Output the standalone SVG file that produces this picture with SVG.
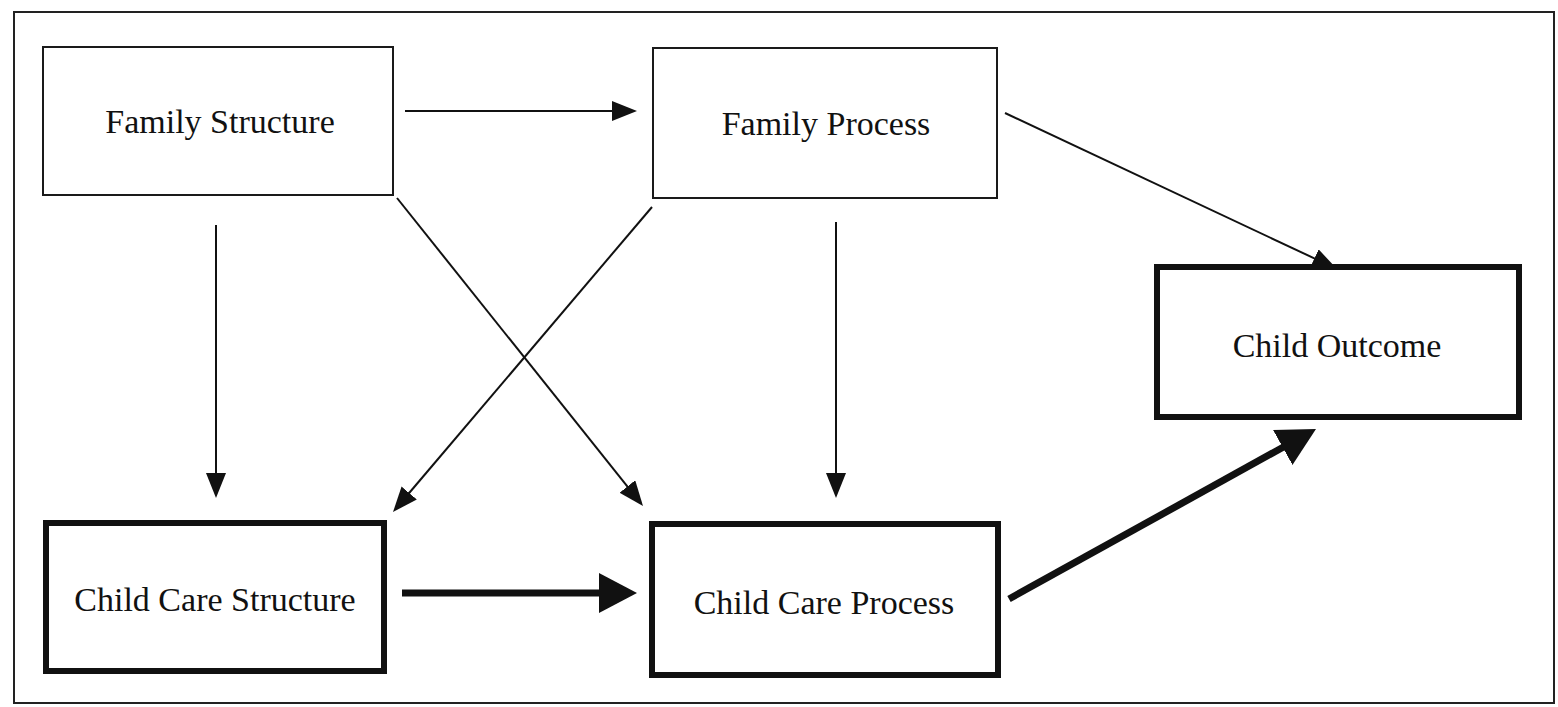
<svg xmlns="http://www.w3.org/2000/svg" width="1558" height="707" viewBox="0 0 1558 707">
<defs>
<style>
.thin{fill:#fff;stroke:#1a1a1a;stroke-width:2}
.thick{fill:#fff;stroke:#111;stroke-width:6}
.lbl{font-family:"Liberation Serif","Times New Roman",serif;font-size:34px;fill:#111;text-anchor:middle}
.c1{stroke:#111;stroke-width:2;fill:none}
.c2{stroke:#111;stroke-width:7;fill:none}
</style>
<marker id="ah" markerUnits="userSpaceOnUse" markerWidth="26" markerHeight="22" refX="4" refY="10" orient="auto">
<path d="M0,0 L25,10 L0,20 z" fill="#111"/>
</marker>
<marker id="ahb" markerUnits="userSpaceOnUse" markerWidth="40" markerHeight="42" refX="6" refY="20" orient="auto">
<path d="M0,0 L38,20 L0,40 z" fill="#111"/>
</marker>
</defs>
<rect width="1558" height="707" fill="#fff"/>
<rect x="14" y="12" width="1540" height="691" fill="none" stroke="#222" stroke-width="2"/>
<g id="connectors">
<line class="c1" x1="405" y1="111" x2="616" y2="111" marker-end="url(#ah)"/>
<line class="c1" x1="216" y1="225" x2="216" y2="477" marker-end="url(#ah)"/>
<line class="c1" x1="397" y1="198" x2="629.9" y2="489.6" marker-end="url(#ah)"/>
<line class="c1" x1="652" y1="207" x2="406.6" y2="496" marker-end="url(#ah)"/>
<line class="c1" x1="836" y1="222" x2="836" y2="477" marker-end="url(#ah)"/>
<line class="c1" x1="1005" y1="113" x2="1318" y2="260.1" marker-end="url(#ah)"/>
<line class="c2" x1="402" y1="593" x2="605" y2="593" marker-end="url(#ahb)"/>
<line class="c2" x1="1009" y1="599" x2="1288" y2="444.5" marker-end="url(#ahb)"/>
</g>
<g id="family-structure">
<rect class="thin" x="43" y="47" width="350" height="148"/>
<text class="lbl" x="220" y="133">Family Structure</text>
</g>
<g id="family-process">
<rect class="thin" x="653" y="48" width="344" height="150"/>
<text class="lbl" x="826" y="135">Family Process</text>
</g>
<g id="child-outcome">
<rect class="thick" x="1157" y="267" width="362" height="150"/>
<text class="lbl" x="1337" y="357">Child Outcome</text>
</g>
<g id="child-care-structure">
<rect class="thick" x="46" y="523" width="338" height="148"/>
<text class="lbl" x="215" y="611">Child Care Structure</text>
</g>
<g id="child-care-process">
<rect class="thick" x="652" y="524" width="346" height="151"/>
<text class="lbl" x="824" y="614">Child Care Process</text>
</g>
</svg>
